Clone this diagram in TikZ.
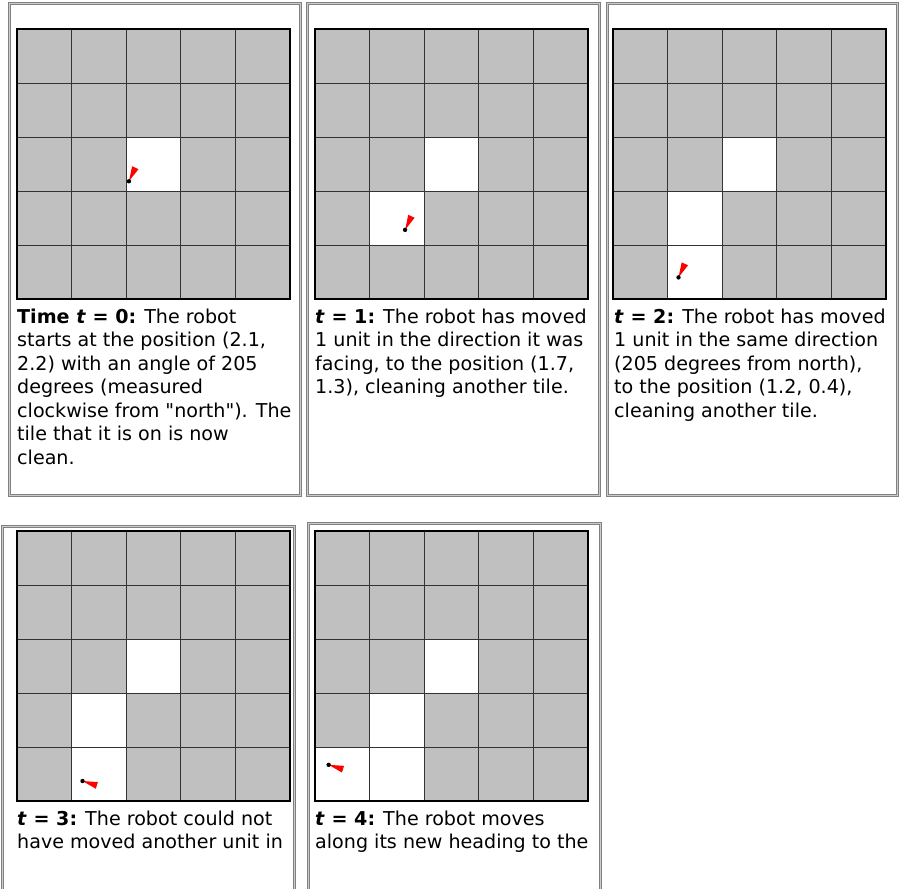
\documentclass[tikz,border=0pt]{standalone}
\usepackage{fontspec}
\setmainfont{DejaVu Sans}[Ligatures=TeXOff]
\definecolor{tilegray}{RGB}{192,192,192}
\definecolor{framegray}{RGB}{128,128,128}
\definecolor{robotred}{RGB}{255,0,0}
\tikzset{
  panelframe/.style={draw=framegray,line width=1pt,double=framegray!40,double distance=1.2pt},
  gridln/.style={black!80,line width=1pt},
  gridframe/.style={black,line width=2pt},
  caption/.style={anchor=north west,inner sep=0pt,align=left,
    font=\fontsize{19.1}{23.5}\selectfont},
}
\newcommand\CW{54.6}
\newcommand\CH{54}
% 5x5 floor: #1,#2 top left corner, #3 clean tiles as col/row counted from bottom left
\newcommand\floorgrid[3]{%
  \fill[tilegray] (#1,#2) rectangle ++(5*\CW,5*\CH);
  \foreach \c/\r in {#3}
    \fill[white] ({#1+\c*\CW},{#2+(4-\r)*\CH}) rectangle ++(\CW,\CH);
  \foreach \i in {1,...,4}{
    \draw[gridln] ({#1+\i*\CW},#2) -- ++(0,5*\CH);
    \draw[gridln] (#1,{#2+\i*\CH}) -- ++(5*\CW,0);
  }
  \draw[gridframe] (#1,#2) rectangle ++(5*\CW,5*\CH);
}
% robot: #1,#2 floor corner, #3,#4 position, #5 tail angle (clockwise from north)
\newcommand\robot[5]{%
  \coordinate (robotpos) at ({#1+#3*\CW},{#2+5*\CH-#4*\CH});
  \fill[robotred] (robotpos)
    -- ++({15*sin(#5)+3.5*cos(#5)},{-15*cos(#5)+3.5*sin(#5)})
    -- ++({-7*cos(#5)},{-7*sin(#5)}) -- cycle;
  \fill (robotpos) circle (2.2pt);
}

\begin{document}
\begin{tikzpicture}[x=1pt,y=-1pt]
  \useasboundingbox (0,0) rectangle (900,889);
  \clip (0,0) rectangle (900,889);
  % panel frames
  \draw[panelframe] (9.5,3.5) rectangle (300.5,495.5);
  \draw[panelframe] (307.5,3.5) rectangle (599.5,495.5);
  \draw[panelframe] (607.5,3.5) rectangle (897.5,495.5);
  \draw[panelframe] (2.5,895) |- (294.5,526.5) -- (294.5,895);
  \draw[panelframe] (308.5,895) |- (600.5,523.5) -- (600.5,895);
  % floors
  \floorgrid{17}{29}{2/2}
  \floorgrid{315}{29}{2/2,1/1}
  \floorgrid{613}{29}{2/2,1/1,1/0}
  \floorgrid{17}{531}{2/2,1/1,1/0}
  \floorgrid{315}{531}{2/2,1/1,1/0,0/0}
  % robots
  \robot{17}{29}{2.05}{2.18}{25}
  \robot{315}{29}{1.65}{1.28}{25}
  \robot{613}{29}{1.2}{0.4}{25}
  \robot{17}{531}{1.2}{0.37}{107}
  \robot{315}{531}{0.25}{0.67}{107}
  % captions
  \node[caption] (cap0) at (17,308.5) {\textbf{Time \textit{t} = 0:} The robot\\
    starts at the position (2.1,\\2.2) with an angle of 205\\degrees (measured\\
    clockwise from "north"). The\\tile that it is on is now\\clean.};
  \node[caption] (cap1) at (315,308.5) {\textbf{\textit{t} = 1:} The robot has moved\\
    1 unit in the direction it was\\facing, to the position (1.7,\\
    1.3), cleaning another tile.};
  \node[caption] (cap2) at (614,308.5) {\textbf{\textit{t} = 2:} The robot has moved\\
    1 unit in the same direction\\(205 degrees from north),\\
    to the position (1.2, 0.4),\\cleaning another tile.};
  \node[caption] (cap3) at (17,810.5) {\textbf{\textit{t} = 3:} The robot could not\\
    have moved another unit in};
  \node[caption] (cap4) at (315,810.5) {\textbf{\textit{t} = 4:} The robot moves\\
    along its new heading to the};
\end{tikzpicture}
\end{document}
